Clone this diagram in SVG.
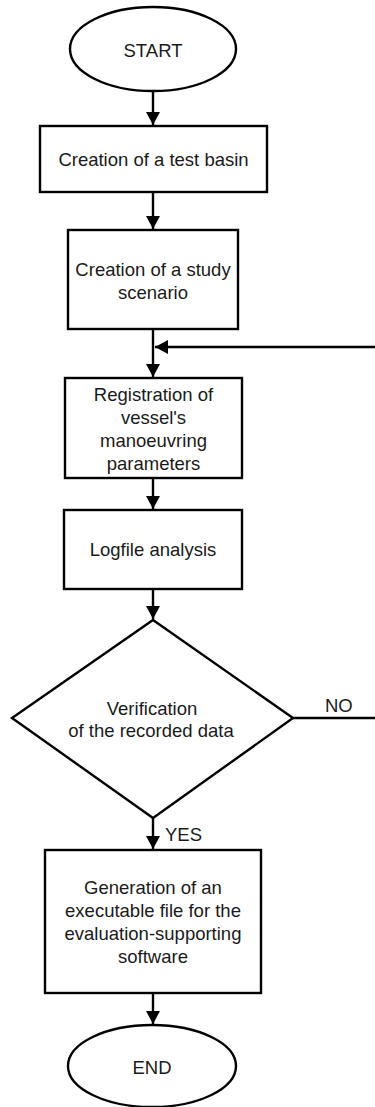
<svg xmlns="http://www.w3.org/2000/svg" width="375" height="1107" viewBox="0 0 375 1107">
<defs>
<style>
.shape{fill:#fff;stroke:#000;stroke-width:2.4}
.conn{fill:none;stroke:#000;stroke-width:2.4}
text{font-family:"Liberation Sans",Arial,sans-serif;font-size:18.5px;fill:#1a1a1a;text-anchor:middle}
.lbl{text-anchor:start}
</style>
<marker id="arr" markerUnits="userSpaceOnUse" markerWidth="14" markerHeight="14" refX="13" refY="7" orient="auto">
<path d="M0,0 L13,7 L0,14 z" fill="#000"/>
</marker>
</defs>
<rect width="375" height="1107" fill="#fff"/>
<g id="connectors">
<path class="conn" d="M153,91 V125" marker-end="url(#arr)"/>
<path class="conn" d="M153,192 V229" marker-end="url(#arr)"/>
<path class="conn" d="M153,329 V377" marker-end="url(#arr)"/>
<path class="conn" d="M153,478 V509" marker-end="url(#arr)"/>
<path class="conn" d="M153,589 V619" marker-end="url(#arr)"/>
<path class="conn" d="M153,818 V849" marker-end="url(#arr)"/>
<path class="conn" d="M153,993 V1024" marker-end="url(#arr)"/>
<path class="conn" d="M293,718 H378 V347 H155" marker-end="url(#arr)"/>
<text class="lbl" x="325" y="711.5">NO</text>
<text class="lbl" x="165" y="841">YES</text>
</g>
<g id="start">
<ellipse class="shape" cx="153" cy="49" rx="83" ry="42"/>
<text x="153" y="56.5">START</text>
</g>
<g id="basin">
<rect class="shape" x="40" y="126" width="227" height="66"/>
<text x="153.5" y="166">Creation of a test basin</text>
</g>
<g id="scenario">
<rect class="shape" x="68" y="230" width="170" height="99"/>
<text x="153" y="275.5">Creation of a study</text>
<text x="153" y="298.5">scenario</text>
</g>
<g id="registration">
<rect class="shape" x="65" y="378" width="177" height="100"/>
<text x="153.5" y="400.5">Registration of</text>
<text x="153.5" y="423.5">vessel's</text>
<text x="153.5" y="446.5">manoeuvring</text>
<text x="153.5" y="469.5">parameters</text>
</g>
<g id="logfile">
<rect class="shape" x="64" y="510" width="178" height="79"/>
<text x="153" y="555.5">Logfile analysis</text>
</g>
<g id="verification">
<polygon class="shape" points="153,620 293,718 153,818 12,718"/>
<text x="152" y="715">Verification</text>
<text x="151" y="737">of the recorded data</text>
</g>
<g id="generation">
<rect class="shape" x="45" y="850" width="216" height="143"/>
<text x="153" y="894">Generation of an</text>
<text x="153" y="917">executable file for the</text>
<text x="153" y="940">evaluation-supporting</text>
<text x="153" y="963">software</text>
</g>
<g id="end">
<ellipse class="shape" cx="152" cy="1066" rx="84" ry="41"/>
<text x="152" y="1074">END</text>
</g>
</svg>
